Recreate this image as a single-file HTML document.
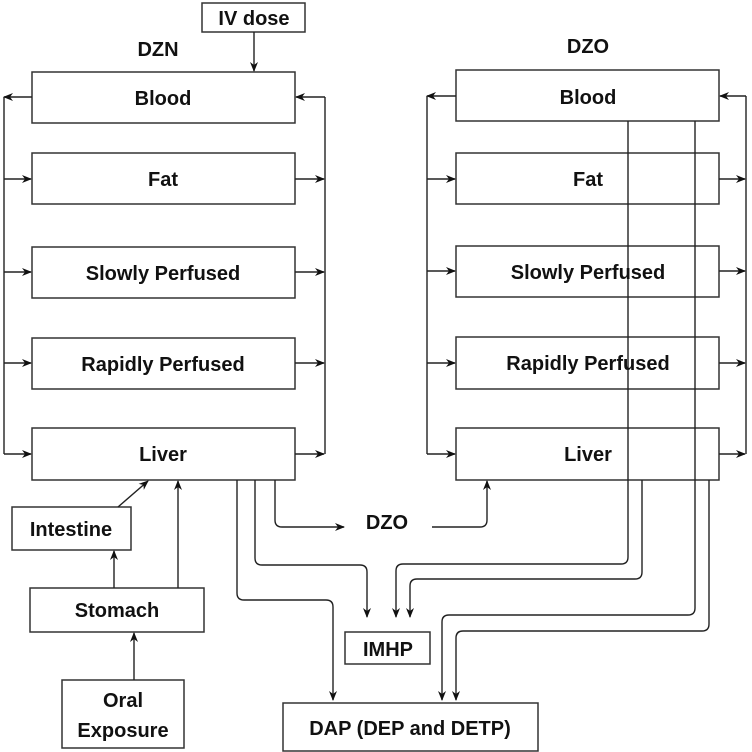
<!DOCTYPE html>
<html><head><meta charset="utf-8"><style>body{margin:0;background:#fff}svg{display:block}</style></head>
<body>
<svg width="752" height="752" viewBox="0 0 752 752" xmlns="http://www.w3.org/2000/svg">
<defs>
<marker id="a" markerWidth="10" markerHeight="8" refX="9" refY="4" orient="auto" markerUnits="userSpaceOnUse">
<path d="M0,0 L10,4 L0,8 L3,4 z" fill="#111"/></marker>
</defs>
<g fill="#fff" stroke="#333" stroke-width="1.5">
<rect x="202" y="3" width="103" height="29"/>
<rect x="32" y="72" width="263" height="51"/>
<rect x="32" y="153" width="263" height="51"/>
<rect x="32" y="247" width="263" height="51"/>
<rect x="32" y="338" width="263" height="51"/>
<rect x="32" y="428" width="263" height="52"/>
<rect x="456" y="70" width="263" height="51"/>
<rect x="456" y="153" width="263" height="51"/>
<rect x="456" y="246" width="263" height="51"/>
<rect x="456" y="337" width="263" height="52"/>
<rect x="456" y="428" width="263" height="52"/>
<rect x="12" y="507" width="119" height="43"/>
<rect x="30" y="588" width="174" height="44"/>
<rect x="62" y="680" width="122" height="68"/>
<rect x="345" y="632" width="85" height="32"/>
<rect x="283" y="703" width="255" height="48"/>
</g>
<g fill="none" stroke="#222" stroke-width="1.4">
<path d="M254,32 V71" marker-end="url(#a)"/>
<!-- left panel buses -->
<path d="M32,97 H4" marker-end="url(#a)"/>
<path d="M4,97 V454"/>
<path d="M4,179 H31" marker-end="url(#a)"/>
<path d="M4,272 H31" marker-end="url(#a)"/>
<path d="M4,363 H31" marker-end="url(#a)"/>
<path d="M4,454 H31" marker-end="url(#a)"/>
<path d="M325,97 V454"/>
<path d="M325,97 H296" marker-end="url(#a)"/>
<path d="M295,179 H324" marker-end="url(#a)"/>
<path d="M295,272 H324" marker-end="url(#a)"/>
<path d="M295,363 H324" marker-end="url(#a)"/>
<path d="M295,454 H324" marker-end="url(#a)"/>
<!-- right panel buses -->
<path d="M456,96 H427" marker-end="url(#a)"/>
<path d="M427,96 V454"/>
<path d="M427,179 H455" marker-end="url(#a)"/>
<path d="M427,271 H455" marker-end="url(#a)"/>
<path d="M427,363 H455" marker-end="url(#a)"/>
<path d="M427,454 H455" marker-end="url(#a)"/>
<path d="M746,96 V454"/>
<path d="M746,96 H720" marker-end="url(#a)"/>
<path d="M719,179 H745" marker-end="url(#a)"/>
<path d="M719,271 H745" marker-end="url(#a)"/>
<path d="M719,363 H745" marker-end="url(#a)"/>
<path d="M719,454 H745" marker-end="url(#a)"/>
<!-- gut -->
<path d="M118,507 L148,481" marker-end="url(#a)"/>
<path d="M114,588 V551" marker-end="url(#a)"/>
<path d="M178,588 V481" marker-end="url(#a)"/>
<path d="M134,680 V633" marker-end="url(#a)"/>
<!-- DZN liver outputs -->
<path d="M275,480 V520 Q275,527 282,527 H344" marker-end="url(#a)"/>
<path d="M432,527 H480 Q487,527 487,520 V481" marker-end="url(#a)"/>
<path d="M255,480 V558 Q255,565 262,565 H360 Q367,565 367,572 V617" marker-end="url(#a)"/>
<path d="M237,480 V593 Q237,600 244,600 H326 Q333,600 333,607 V700" marker-end="url(#a)"/>
<!-- DZO outputs -->
<path d="M628,121 V557 Q628,564 621,564 H403 Q396,564 396,571 V617" marker-end="url(#a)"/>
<path d="M642,480 V572 Q642,579 635,579 H417 Q410,579 410,586 V617" marker-end="url(#a)"/>
<path d="M695,121 V608 Q695,615 688,615 H449 Q442,615 442,622 V700" marker-end="url(#a)"/>
<path d="M709,480 V624 Q709,631 702,631 H463 Q456,631 456,638 V700" marker-end="url(#a)"/>
</g>
<g font-family="Liberation Sans, sans-serif" font-weight="bold" font-size="20" fill="#111" text-anchor="middle">
<text x="254" y="25">IV dose</text>
<text x="158" y="56">DZN</text>
<text x="588" y="53">DZO</text>
<text x="163" y="105">Blood</text>
<text x="163" y="186">Fat</text>
<text x="163" y="280">Slowly Perfused</text>
<text x="163" y="371">Rapidly Perfused</text>
<text x="163" y="461">Liver</text>
<text x="588" y="104">Blood</text>
<text x="588" y="186">Fat</text>
<text x="588" y="279">Slowly Perfused</text>
<text x="588" y="370">Rapidly Perfused</text>
<text x="588" y="461">Liver</text>
<text x="71" y="536">Intestine</text>
<text x="117" y="617">Stomach</text>
<text x="123" y="707">Oral</text>
<text x="123" y="737">Exposure</text>
<text x="387" y="529">DZO</text>
<text x="388" y="656">IMHP</text>
<text x="410" y="735">DAP (DEP and DETP)</text>
</g>
</svg>
</body></html>
